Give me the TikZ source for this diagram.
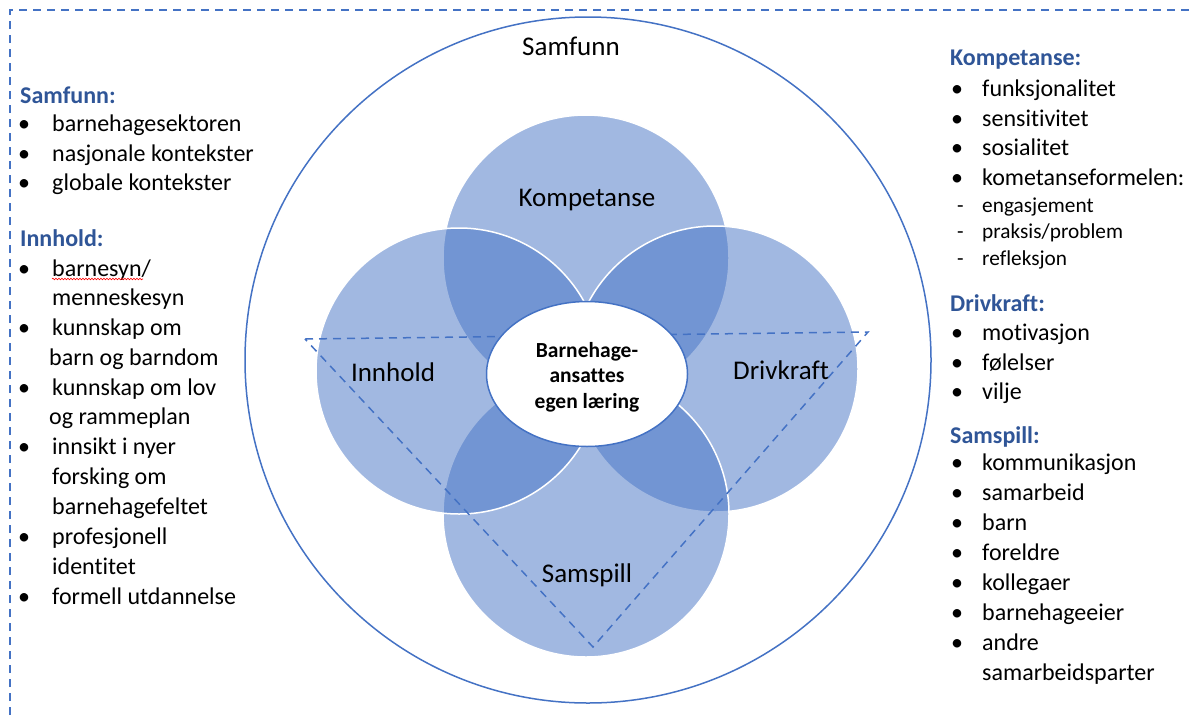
\documentclass[tikz,border=0pt]{standalone}
\usepackage{fontspec}
\setmainfont{Carlito}[Ligatures=NoCommon]
\usetikzlibrary{shapes.geometric,decorations.pathmorphing}
\definecolor{accent}{HTML}{4472C4}
\definecolor{headblue}{HTML}{2F5597}
\tikzset{
  item/.style={anchor=mid west, yshift=-5pt, inner sep=0pt, font=\fontsize{24}{30}\selectfont},
  sub/.style={anchor=mid west, yshift=-4pt, inner sep=0pt, font=\fontsize{21.3}{26}\selectfont},
  head/.style={anchor=mid west, yshift=-5pt, inner sep=0pt, font=\fontsize{24}{30}\selectfont\bfseries, text=headblue},
  bul/.style={anchor=mid, yshift=-5pt, inner sep=0pt, font=\fontsize{24}{30}\selectfont},
  petal/.style={circle, minimum size=286pt, inner sep=0pt, fill=accent, fill opacity=0.5, draw=white, draw opacity=1, line width=1.5pt},
  bigcirc/.style={circle, minimum size=686pt, inner sep=0pt, draw=accent, line width=1.5pt},
  core/.style={ellipse, minimum width=201pt, minimum height=145pt, inner sep=0pt, draw=accent, fill=white, line width=1.5pt, align=center, font=\fontsize{21.5}{25.5}\selectfont\bfseries},
  lab/.style={inner sep=0pt, font=\fontsize{27}{32}\selectfont},
  dashline/.style={draw=accent, line width=1.5pt, dash pattern=on 8pt off 6pt},
}
\begin{document}
\begin{tikzpicture}[x=1pt,y=-1pt]
\useasboundingbox (0,0) rectangle (1190,715);
% dashed border
\coordinate (bl) at (10,715);
\coordinate (tl) at (10,10);
\coordinate (tr) at (1190,10);
\draw[dashline] (bl) -- (tl) -- (tr);

% society circle
\node[bigcirc] (soc) at (588,360) {};
\node[lab] (socl) at (571,46) {Samfunn};

% petals
\node[petal] (komp) at (586,258) {};
\node[petal] (driv) at (715,369) {};
\node[petal] (sams) at (586,514) {};
\node[petal] (innh) at (459,371) {};

% dashed triangle
\coordinate (t1) at (305,339);
\coordinate (t2) at (868,332);
\coordinate (t3) at (593,647);
\draw[dashline] (t1) -- (t2) -- (t3) -- cycle;

% centre
\node[core] (centre) at (587,374) {};
\node[inner sep=0pt, align=center, font=\fontsize{21.5}{25.5}\selectfont\bfseries] (centret) at (587,377) {Barnehage-\\ansattes\\egen læring};

% petal labels
\node[lab] (kompl) at (587,200) {Kompetanse};
\node[lab] (innhl) at (393,372) {Innhold};
\node[lab] (drivl) at (781,370) {Drivkraft};
\node[lab] (samsl) at (587,575) {Samspill};

% left lists
\node[head] (lh1) at (20,96) {Samfunn:};
\foreach \t/\y [count=\i] in {barnehagesektoren/124, nasjonale kontekster/154, globale kontekster/183}{
  \node[bul] (lsb\i) at (24,\y) {•};
  \node[item] (ls\i) at (52,\y) {\t};
}
\node[head] (lh2) at (20,239) {Innhold:};
\foreach \y [count=\i] in {269,328,388,447,537,597}{
  \node[bul] (lib\i) at (24,\y) {•};
}
\foreach \t/\x/\y [count=\i] in {{barnesyn/}/52/269, menneskesyn/52/298, kunnskap om/52/328, barn og barndom/49/358, kunnskap om lov/52/388, og rammeplan/49/417, innsikt i nyer/52/447, forsking om/52/477, barnehagefeltet/52/507, profesjonell/52/537, identitet/52/567, formell utdannelse/52/597}{
  \node[item] (li\i) at (\x,\y) {\t};
}
\draw[red, line width=0.6pt, decorate, decoration={snake, amplitude=0.8pt, segment length=3pt}] (52,279) -- (143,279);

% right lists
\node[head] (rh1) at (950,58) {Kompetanse:};
\foreach \t/\y [count=\i] in {funksjonalitet/89, sensitivitet/119, sosialitet/148, kometanseformelen:/178}{
  \node[bul] (rkb\i) at (957,\y) {•};
  \node[item] (rk\i) at (982,\y) {\t};
}
\foreach \t/\y [count=\i] in {engasjement/206, {praksis/problem}/232, refleksjon/259}{
  \node[sub] (rsd\i) at (957,\y) {-};
  \node[sub] (rs\i) at (982,\y) {\t};
}
\node[head] (rh2) at (950,304) {Drivkraft:};
\foreach \t/\y [count=\i] in {motivasjon/333, følelser/363, vilje/392}{
  \node[bul] (rdb\i) at (957,\y) {•};
  \node[item] (rd\i) at (982,\y) {\t};
}
\node[head] (rh3) at (950,436) {Samspill:};
\foreach \t/\y [count=\i] in {kommunikasjon/463, samarbeid/493, barn/523, foreldre/553, kollegaer/583, barnehageeier/613, andre/643}{
  \node[bul] (rpb\i) at (957,\y) {•};
  \node[item] (rp\i) at (982,\y) {\t};
}
\node[item] (rp8) at (982,673) {samarbeidsparter};
\end{tikzpicture}
\end{document}
